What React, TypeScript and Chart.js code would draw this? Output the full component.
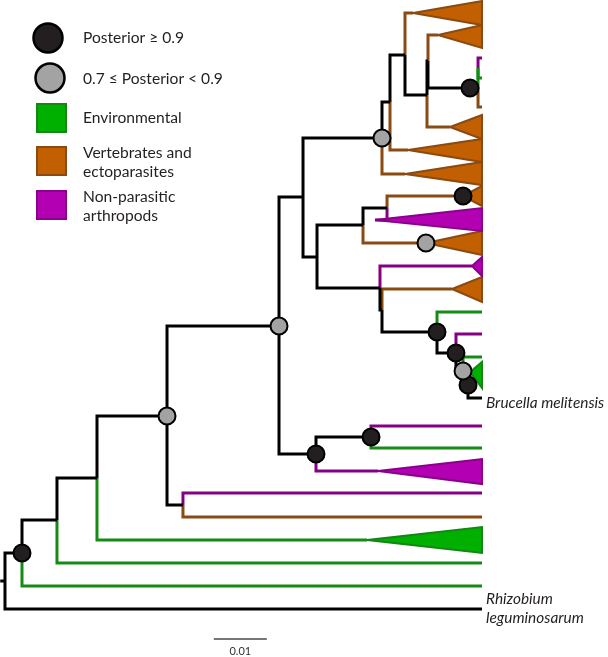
import React, { useEffect, useRef } from "react";
import { Chart, registerables } from "chart.js";

Chart.register(...registerables);

// ---- data: tree (depth in substitutions/site, vertical row position) ----
const TIP = 0.09;

const nodeIds = [
  "stem", "root", "A", "B", "C", "D", "Dl", "E", "F", "G", "H", "I", "V", "S", "P", "Q", "R", "R2", "Ra",
  "J", "K", "K2", "M", "W", "L", "X", "Y", "Z", "AA", "BB",
  "t1", "t2", "t3", "t4", "t5", "tM", "tL", "t7", "tBB", "tF", "tC",
  "rhizo", "e1", "e2", "pDl", "bDl", "pG", "gG", "gY", "pZ", "gAA", "bru", "pR", "gR", "bR",
];
const nodeDepth = [
  -0.0009, 0, 0.00321, 0.00981, 0.01736, 0.03057, 0.03358, 0.0517, 0.05868, 0.06906, 0.05623, 0.07113, 0.07264, 0.07547, 0.07962, 0.07981, 0.08774, 0.08925, 0.08925,
  0.05887, 0.06755, 0.07943, 0.07208, 0.08642, 0.07075, 0.07113, 0.08151, 0.08509, 0.08642, 0.08736,
  0.07698, 0.0817, 0.08396, 0.07604, 0.07547, 0.06981, 0.08811, 0.08434, 0.08774, 0.07038, 0.0683,
  TIP, TIP, TIP, TIP, TIP, TIP, TIP, TIP, TIP, TIP, TIP, TIP, TIP, TIP,
];
const nodeRow = [
  581, 581, 553, 520, 478, 416, 505, 326, 454, 437, 197, 138, 102, 55, 95, 61, 88, 88, 68,
  257, 225, 243, 208, 196, 288, 310, 332, 353, 371, 385,
  13, 35, 127, 150, 174, 220, 266, 289, 372, 471, 540,
  609, 586, 563, 493, 517, 426, 448, 312, 334, 357, 398, 58, 78, 107,
];

// [parent, child, host group]  k = backbone, g = environmental, b = vertebrates/ectoparasites, p = non-parasitic arthropods
const branches: [string, string, string][] = [
  ["stem", "root", "k"],
  ["root", "rhizo", "k"], ["root", "A", "k"],
  ["A", "B", "k"], ["A", "e1", "g"],
  ["B", "C", "k"], ["B", "e2", "g"],
  ["C", "D", "k"], ["C", "tC", "g"],
  ["D", "E", "k"], ["D", "Dl", "k"],
  ["Dl", "pDl", "p"], ["Dl", "bDl", "b"],
  ["E", "H", "k"], ["E", "F", "k"],
  ["F", "G", "k"], ["F", "tF", "p"],
  ["G", "pG", "p"], ["G", "gG", "g"],
  ["H", "I", "k"], ["H", "J", "k"],
  ["I", "V", "k"], ["I", "t5", "b"],
  ["V", "S", "k"], ["V", "t4", "b"],
  ["S", "t1", "b"], ["S", "P", "k"],
  ["P", "Q", "k"], ["P", "t3", "b"],
  ["Q", "t2", "b"], ["Q", "R", "k"],
  ["R", "R2", "k"],
  ["R2", "Ra", "g"], ["R2", "bR", "b"],
  ["Ra", "pR", "p"], ["Ra", "gR", "g"],
  ["J", "K", "k"], ["J", "L", "k"],
  ["K", "M", "k"], ["K", "K2", "b"],
  ["M", "W", "b"], ["M", "tM", "p"],
  ["L", "tL", "p"], ["L", "X", "k"],
  ["X", "t7", "b"], ["X", "Y", "k"],
  ["Y", "gY", "g"], ["Y", "Z", "k"],
  ["Z", "pZ", "p"], ["Z", "AA", "k"],
  ["AA", "gAA", "g"], ["AA", "BB", "k"],
  ["BB", "tBB", "g"], ["BB", "bru", "k"],
];

// collapsed clades: [apex node, top row at tips, bottom row at tips, group]
const collapsedClades: [string, number, number, string][] = [
  ["t1", 1, 25, "b"],
  ["t2", 25, 48, "b"],
  ["t3", 115, 139, "b"],
  ["t4", 139, 162, "b"],
  ["t5", 162, 185, "b"],
  ["W", 186, 206, "b"],
  ["tM", 208, 231, "p"],
  ["K2", 231, 255, "b"],
  ["tL", 257, 276, "p"],
  ["t7", 277, 302, "b"],
  ["tBB", 362, 388, "g"],
  ["tF", 459, 484, "p"],
  ["tC", 527, 553, "g"],
];

const highSupport = ["A", "F", "G", "W", "R", "Y", "Z", "BB"];
const midSupport = ["D", "E", "I", "K2", "AA"];

const tipLabels: [string, string[]][] = [
  ["bru", ["Brucella melitensis"]],
  ["rhizo", ["Rhizobium", "leguminosarum"]],
];

const legendLabels = [
  ["Posterior \u2265 0.9"],
  ["0.7 \u2264 Posterior < 0.9"],
  ["Environmental"],
  ["Vertebrates and", "ectoparasites"],
  ["Non-parasitic", "arthropods"],
];

const SCALE_BAR = 0.01;
const SCALE_LABEL = "0.01";

// ---- styles ----
const LINE: Record<string, string> = { k: "#000000", g: "#158a15", b: "#8a4a12", p: "#860086" };
const FILL: Record<string, string> = { g: "#00b000", b: "#c25f00", p: "#b200b2" };
const EDGE: Record<string, string> = { g: "#138613", b: "#8a4a12", p: "#8a008a" };
const DARK = "#231f20";
const GREY = "#a3a3a3";
const FONT = "Lato, 'Open Sans', sans-serif";

const idx = (id: string) => nodeIds.indexOf(id);
const pt = (id: string) => ({ x: nodeDepth[idx(id)], y: nodeRow[idx(id)] });

const overlayPlugin = {
  id: "overlay",
  afterDraw(chart: any) {
    const { ctx } = chart;
    const xs = chart.scales.x;
    const ys = chart.scales.y;
    ctx.save();

    // legend
    const textX = 83;
    ctx.fillStyle = DARK;
    ctx.font = `15.6px ${FONT}`;
    ctx.textAlign = "left";
    ctx.textBaseline = "alphabetic";
    const baselines = [43, 84, 123, 158, 202];
    legendLabels.forEach((lines, i) => {
      lines.forEach((t, j) => ctx.fillText(t, textX, baselines[i] + j * 19));
    });
    // legend symbols
    const circ = (cx: number, cy: number, fill: string) => {
      ctx.beginPath();
      ctx.arc(cx, cy, 14.5, 0, Math.PI * 2);
      ctx.fillStyle = fill;
      ctx.fill();
      ctx.lineWidth = 2.5;
      ctx.strokeStyle = "#000";
      ctx.stroke();
    };
    circ(48, 38, DARK);
    circ(50, 78, GREY);
    const sq = (y: number, key: string) => {
      ctx.fillStyle = FILL[key];
      ctx.fillRect(36, y, 31, 30);
      ctx.lineWidth = 2;
      ctx.strokeStyle = EDGE[key];
      ctx.strokeRect(37, y + 1, 29, 28);
    };
    sq(103, "g");
    sq(146, "b");
    sq(190, "p");

    // tip labels
    ctx.fillStyle = DARK;
    ctx.font = `italic 15.4px ${FONT}`;
    tipLabels.forEach(([id, lines]) => {
      const p = pt(id);
      const px = xs.getPixelForValue(p.x) + 4;
      const py = ys.getPixelForValue(p.y);
      const first = py + 10 - (lines.length - 1) * 15;
      lines.forEach((t, j) => ctx.fillText(t, px, first + j * 19));
    });

    // scale bar
    const x0 = xs.getPixelForValue(0.0394);
    const x1 = xs.getPixelForValue(0.0394 + SCALE_BAR);
    ctx.beginPath();
    ctx.moveTo(x0, 639);
    ctx.lineTo(x1, 639);
    ctx.lineWidth = 1.3;
    ctx.strokeStyle = "#4a4a4a";
    ctx.stroke();
    ctx.fillStyle = "#333";
    ctx.font = `11px ${FONT}`;
    ctx.textAlign = "center";
    ctx.fillText(SCALE_LABEL, (x0 + x1) / 2, 655);
    ctx.restore();
  },
};

export default function App() {
  const ref = useRef<HTMLCanvasElement | null>(null);
  useEffect(() => {
    if (!ref.current) return;
    const datasets: any[] = [];

    collapsedClades.forEach(([apex, top, bottom, key]) => {
      const a = pt(apex);
      datasets.push({
        data: [a, { x: TIP, y: top }, { x: TIP, y: bottom }, a],
        borderColor: EDGE[key],
        backgroundColor: FILL[key],
        borderWidth: 2,
        fill: "shape",
        pointRadius: 0,
        tension: 0,
        borderJoinStyle: "miter",
        order: 3,
      });
    });

    branches.forEach(([p, c, key]) => {
      const a = pt(p);
      const b = pt(c);
      datasets.push({
        data: [a, { x: a.x, y: b.y }, b],
        borderColor: LINE[key],
        borderWidth: 3,
        fill: false,
        pointRadius: 0,
        tension: 0,
        borderJoinStyle: "miter",
        borderCapStyle: "butt",
        order: 2,
      });
    });

    [
      [midSupport, GREY],
      [highSupport, DARK],
    ].forEach(([ids, color]: any) => {
      datasets.push({
        data: ids.map((id: string) => pt(id)),
        showLine: false,
        pointRadius: 8.5,
        pointBackgroundColor: color,
        pointBorderColor: "#000",
        pointBorderWidth: 2,
        order: 0,
      });
    });

    const chart = new Chart(ref.current, {
      type: "line",
      data: { datasets },
      options: {
        animation: false,
        responsive: false,
        maintainAspectRatio: false,
        layout: { padding: 0, autoPadding: false },
        events: [],
        clip: false as any,
        plugins: { legend: { display: false }, tooltip: { enabled: false } },
        scales: {
          x: { type: "linear", display: false, min: -0.00094, max: 0.11377 },
          y: { type: "linear", display: false, reverse: true, min: 0, max: 657 },
        },
      },
      plugins: [overlayPlugin],
    } as any);
    return () => chart.destroy();
  }, []);

  return (
    <div style={{ position: "absolute", left: 0, top: 0, width: 608, height: 657, background: "#fff" }}>
      <canvas ref={ref} width={608} height={657} style={{ display: "block" }} />
    </div>
  );
}
